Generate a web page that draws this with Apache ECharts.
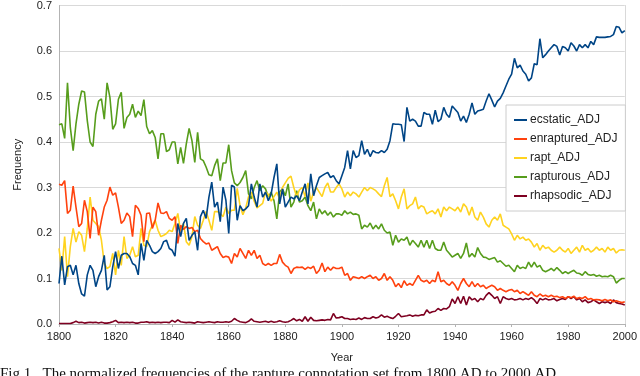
<!DOCTYPE html>
<html>
<head>
<meta charset="utf-8">
<script src="https://cdn.jsdelivr.net/npm/echarts@6/dist/echarts.min.js"></script>
<style>
  html, body { margin: 0; padding: 0; background: #fff; }
  #chart { width: 640px; height: 376px; }
</style>
</head>
<body>
<div id="chart"></div>
<script>
// years 1800..2000, one value per year
var startYear = 1800
var endYear = 2000
var yTicks = ['0.0', '0.1', '0.2', '0.3', '0.4', '0.5', '0.6', '0.7']

var ecstatic = [
  0.089, 0.149, 0.086, 0.126, 0.129, 0.108, 0.129, 0.089, 0.066, 0.061,
  0.108, 0.129, 0.118, 0.082, 0.104, 0.118, 0.151, 0.075, 0.082, 0.126,
  0.159, 0.122, 0.151, 0.155, 0.155, 0.148, 0.133, 0.129, 0.108, 0.177,
  0.140, 0.184, 0.173, 0.159, 0.155, 0.159, 0.166, 0.181, 0.184, 0.166,
  0.162, 0.149, 0.221, 0.192, 0.221, 0.232, 0.184, 0.195, 0.203, 0.162,
  0.236, 0.250, 0.232, 0.279, 0.312, 0.257, 0.268, 0.225, 0.301, 0.272,
  0.199, 0.305, 0.301, 0.228, 0.260, 0.249, 0.253, 0.260, 0.308, 0.279,
  0.257, 0.308, 0.279, 0.290, 0.271, 0.286, 0.322, 0.352, 0.264, 0.297,
  0.257, 0.268, 0.279, 0.275, 0.282, 0.271, 0.290, 0.308, 0.264, 0.330,
  0.282, 0.304, 0.322, 0.326, 0.330, 0.333, 0.322, 0.326, 0.315, 0.308,
  0.326, 0.344, 0.381, 0.341, 0.381, 0.366, 0.370, 0.403, 0.373, 0.384,
  0.368, 0.381, 0.377, 0.376, 0.381, 0.377, 0.384, 0.403, 0.440, 0.439,
  0.439, 0.438, 0.401, 0.476, 0.446, 0.450, 0.446, 0.435, 0.435, 0.465,
  0.461, 0.461, 0.439, 0.470, 0.445, 0.450, 0.476, 0.461, 0.454, 0.479,
  0.472, 0.465, 0.446, 0.457, 0.443, 0.461, 0.486, 0.461, 0.468, 0.470,
  0.472, 0.490, 0.506, 0.492, 0.477, 0.490, 0.496, 0.508, 0.523, 0.538,
  0.549, 0.584, 0.563, 0.569, 0.556, 0.549, 0.534, 0.541, 0.572, 0.570,
  0.627, 0.585, 0.592, 0.600, 0.607, 0.614, 0.610, 0.591, 0.610, 0.607,
  0.600, 0.618, 0.611, 0.600, 0.614, 0.607, 0.614, 0.607, 0.621, 0.614,
  0.631, 0.630, 0.630, 0.630, 0.631, 0.632, 0.636, 0.654, 0.652, 0.640,
  0.645
]

var enraptured = [
  0.307, 0.305, 0.315, 0.243, 0.250, 0.303, 0.257, 0.214, 0.221, 0.272,
  0.247, 0.188, 0.257, 0.247, 0.195, 0.228, 0.257, 0.272, 0.301, 0.283,
  0.288, 0.257, 0.221, 0.228, 0.244, 0.236, 0.192, 0.261, 0.254, 0.239,
  0.181, 0.243, 0.244, 0.210, 0.228, 0.266, 0.244, 0.243, 0.247, 0.232,
  0.228, 0.236, 0.177, 0.217, 0.208, 0.214, 0.210, 0.212, 0.203, 0.206,
  0.188, 0.181, 0.176, 0.178, 0.162, 0.166, 0.170, 0.155, 0.146, 0.149,
  0.147, 0.133, 0.155, 0.147, 0.166, 0.155, 0.144, 0.162, 0.151, 0.162,
  0.144, 0.151, 0.133, 0.129, 0.133, 0.129, 0.133, 0.133, 0.153, 0.136,
  0.129, 0.125, 0.111, 0.122, 0.125, 0.124, 0.125, 0.120, 0.125, 0.122,
  0.127, 0.111, 0.118, 0.134, 0.115, 0.125, 0.118, 0.125, 0.122, 0.122,
  0.125, 0.107, 0.111, 0.096, 0.104, 0.102, 0.100, 0.104, 0.100, 0.104,
  0.107, 0.100, 0.104, 0.096, 0.100, 0.111, 0.096, 0.104, 0.096, 0.082,
  0.089, 0.080, 0.095, 0.085, 0.089, 0.085, 0.096, 0.107, 0.096, 0.093,
  0.096, 0.089, 0.096, 0.093, 0.115, 0.093, 0.096, 0.089, 0.085, 0.093,
  0.085, 0.074, 0.089, 0.100, 0.089, 0.082, 0.093, 0.082, 0.089, 0.082,
  0.085, 0.078, 0.082, 0.085, 0.082, 0.074, 0.078, 0.074, 0.071, 0.074,
  0.076, 0.071, 0.074, 0.067, 0.071, 0.067, 0.063, 0.071, 0.063, 0.060,
  0.066, 0.061, 0.063, 0.060, 0.063, 0.060, 0.061, 0.058, 0.060, 0.056,
  0.060, 0.058, 0.061, 0.056, 0.058, 0.056, 0.060, 0.054, 0.056, 0.053,
  0.054, 0.053, 0.051, 0.054, 0.051, 0.053, 0.049, 0.051, 0.049, 0.047,
  0.049
]

var rapt = [
  0.166, 0.118, 0.192, 0.104, 0.170, 0.210, 0.180, 0.203, 0.195, 0.159,
  0.210, 0.279, 0.228, 0.221, 0.214, 0.184, 0.133, 0.122, 0.126, 0.155,
  0.108, 0.162, 0.129, 0.192, 0.144, 0.151, 0.170, 0.148, 0.151, 0.210,
  0.173, 0.170, 0.203, 0.217, 0.228, 0.206, 0.192, 0.195, 0.199, 0.206,
  0.203, 0.221, 0.243, 0.203, 0.221, 0.181, 0.173, 0.192, 0.236, 0.217,
  0.210, 0.228, 0.247, 0.228, 0.206, 0.247, 0.247, 0.243, 0.236, 0.257,
  0.243, 0.250, 0.250, 0.298, 0.260, 0.240, 0.255, 0.280, 0.290, 0.270,
  0.255, 0.260, 0.265, 0.290, 0.285, 0.270, 0.280, 0.290, 0.275, 0.300,
  0.310, 0.320, 0.325, 0.300, 0.280, 0.295, 0.300, 0.280, 0.310, 0.270,
  0.290, 0.300, 0.290, 0.280, 0.300, 0.310, 0.290, 0.290, 0.300, 0.308,
  0.297, 0.279, 0.290, 0.282, 0.290, 0.286, 0.279, 0.290, 0.300, 0.293,
  0.300, 0.297, 0.293, 0.286, 0.280, 0.304, 0.322, 0.280, 0.286, 0.271,
  0.253, 0.279, 0.297, 0.253, 0.260, 0.264, 0.279, 0.253, 0.260, 0.257,
  0.242, 0.246, 0.249, 0.242, 0.253, 0.235, 0.257, 0.249, 0.257, 0.253,
  0.249, 0.257, 0.246, 0.264, 0.257, 0.239, 0.257, 0.235, 0.228, 0.246,
  0.235, 0.220, 0.213, 0.228, 0.235, 0.228, 0.242, 0.217, 0.213, 0.209,
  0.198, 0.184, 0.195, 0.187, 0.191, 0.184, 0.187, 0.180, 0.169, 0.177,
  0.162, 0.173, 0.166, 0.169, 0.162, 0.158, 0.162, 0.169, 0.162, 0.158,
  0.166, 0.155, 0.162, 0.169, 0.158, 0.173, 0.162, 0.166, 0.158, 0.162,
  0.169, 0.162, 0.166, 0.158, 0.169, 0.162, 0.166, 0.156, 0.162, 0.163,
  0.162
]

var rapturous = [
  0.438, 0.440, 0.408, 0.530, 0.432, 0.381, 0.440, 0.483, 0.512, 0.510,
  0.447, 0.400, 0.390, 0.461, 0.490, 0.495, 0.450, 0.530, 0.498, 0.428,
  0.440, 0.494, 0.509, 0.430, 0.454, 0.461, 0.483, 0.454, 0.468, 0.458,
  0.493, 0.434, 0.418, 0.425, 0.410, 0.363, 0.418, 0.418, 0.379, 0.383,
  0.400, 0.400, 0.352, 0.388, 0.353, 0.396, 0.430, 0.403, 0.355, 0.421,
  0.363, 0.359, 0.345, 0.328, 0.326, 0.348, 0.363, 0.315, 0.354, 0.354,
  0.394, 0.337, 0.310, 0.304, 0.311, 0.322, 0.337, 0.286, 0.275, 0.300,
  0.315, 0.293, 0.304, 0.297, 0.279, 0.290, 0.271, 0.231, 0.290, 0.297,
  0.282, 0.308, 0.257, 0.268, 0.293, 0.268, 0.271, 0.279, 0.260, 0.249,
  0.268, 0.231, 0.253, 0.242, 0.249, 0.239, 0.246, 0.235, 0.242, 0.242,
  0.239, 0.249, 0.242, 0.246, 0.241, 0.242, 0.239, 0.209, 0.217, 0.213,
  0.222, 0.209, 0.217, 0.209, 0.220, 0.206, 0.200, 0.202, 0.173, 0.195,
  0.180, 0.187, 0.184, 0.191, 0.173, 0.184, 0.177, 0.169, 0.184, 0.169,
  0.184, 0.166, 0.184, 0.166, 0.162, 0.162, 0.180, 0.162, 0.155, 0.147,
  0.151, 0.155, 0.144, 0.155, 0.178, 0.147, 0.155, 0.147, 0.168, 0.155,
  0.147, 0.146, 0.142, 0.144, 0.146, 0.136, 0.139, 0.133, 0.127, 0.129,
  0.122, 0.115, 0.129, 0.122, 0.125, 0.122, 0.136, 0.125, 0.136, 0.125,
  0.129, 0.118, 0.115, 0.118, 0.122, 0.117, 0.124, 0.118, 0.111, 0.115,
  0.111, 0.115, 0.118, 0.112, 0.111, 0.107, 0.115, 0.109, 0.107, 0.109,
  0.105, 0.107, 0.104, 0.105, 0.104, 0.107, 0.104, 0.090, 0.096, 0.100,
  0.100
]

var rhapsodic = [
  0.001, 0.001, 0.001, 0.001, 0.001, 0.003, 0.006, 0.003, 0.004, 0.002,
  0.003, 0.004, 0.003, 0.004, 0.002, 0.004, 0.002, 0.002, 0.003, 0.005,
  0.008, 0.003, 0.004, 0.003, 0.004, 0.003, 0.004, 0.002, 0.002, 0.004,
  0.004, 0.005, 0.003, 0.004, 0.003, 0.004, 0.003, 0.004, 0.004, 0.003,
  0.008, 0.004, 0.009, 0.005, 0.004, 0.003, 0.004, 0.003, 0.002, 0.005,
  0.004, 0.003, 0.004, 0.005, 0.004, 0.003, 0.005, 0.004, 0.004, 0.005,
  0.004, 0.006, 0.012, 0.008, 0.005, 0.004, 0.003, 0.006, 0.011, 0.006,
  0.005, 0.004, 0.005, 0.006, 0.004, 0.006, 0.004, 0.005, 0.007, 0.005,
  0.004, 0.005, 0.008, 0.012, 0.007, 0.010, 0.006, 0.016, 0.006, 0.015,
  0.008, 0.007, 0.008, 0.009, 0.008, 0.010, 0.009, 0.023, 0.013, 0.014,
  0.016, 0.012, 0.012, 0.010, 0.011, 0.010, 0.013, 0.010, 0.014, 0.012,
  0.012, 0.016, 0.013, 0.015, 0.020, 0.015, 0.017, 0.014, 0.012, 0.017,
  0.023, 0.016, 0.017, 0.018, 0.020, 0.017, 0.019, 0.018, 0.020, 0.020,
  0.031, 0.024, 0.027, 0.028, 0.034, 0.030, 0.034, 0.033, 0.038, 0.055,
  0.045, 0.060, 0.045, 0.061, 0.042, 0.060, 0.053, 0.056, 0.049, 0.056,
  0.053, 0.063, 0.069, 0.063, 0.056, 0.060, 0.045, 0.060, 0.056, 0.054,
  0.056, 0.053, 0.054, 0.056, 0.053, 0.056, 0.054, 0.058, 0.053, 0.045,
  0.056, 0.053, 0.056, 0.053, 0.054, 0.056, 0.051, 0.054, 0.056, 0.054,
  0.060, 0.056, 0.060, 0.053, 0.056, 0.049, 0.053, 0.047, 0.049, 0.053,
  0.049, 0.045, 0.049, 0.047, 0.049, 0.045, 0.053, 0.047, 0.045, 0.044,
  0.042
]

var names = ['ecstatic_ADJ', 'enraptured_ADJ', 'rapt_ADJ', 'rapturous_ADJ', 'rhapsodic_ADJ']
var colors = ['#004586', '#ff420e', '#ffd320', '#579d1c', '#7e0021']
var values = [ecstatic, enraptured, rapt, rapturous, rhapsodic]

var years = []
for (var y = startYear; y <= endYear; y++) years.push(y)

function pairs(arr) {
  return years.map(function (yr, i) { return [yr, arr[i]] })
}

var myChart = echarts.init(document.getElementById('chart'))
var font = 'Liberation Sans'

var option = {
  animation: false,
  backgroundColor: '#fff',
  color: colors,
  textStyle: { fontFamily: font },
  grid: { left: 59, right: 12, top: 4, bottom: 52 },
  legend: {
    orient: 'vertical',
    left: 506,
    top: 105,
    padding: [8, 8, 8, 8],
    backgroundColor: '#fff',
    borderColor: '#cccccc',
    borderWidth: 1,
    icon: 'rect',
    itemWidth: 13,
    itemHeight: 2,
    itemGap: 5,
    textStyle: { fontFamily: font, fontSize: 12, color: '#222', lineHeight: 14, padding: [0, 0, 0, -2] },
    data: names
  },
  xAxis: {
    type: 'value',
    min: startYear,
    max: endYear,
    interval: 20,
    name: 'Year',
    nameLocation: 'middle',
    nameGap: 28,
    nameTextStyle: { fontFamily: font, fontSize: 11, color: '#222' },
    axisLine: { show: true, lineStyle: { color: '#b3b3b3', width: 1 } },
    axisTick: { show: true, length: 3, lineStyle: { color: '#b3b3b3' } },
    axisLabel: {
      fontFamily: font, fontSize: 11, color: '#222', margin: 7,
      formatter: function (v) { return String(v) }
    },
    splitLine: { show: false }
  },
  yAxis: [
    {
      type: 'value',
      min: 0,
      max: 0.7,
      interval: 0.1,
      name: 'Frequency',
      nameLocation: 'middle',
      nameGap: 36,
      nameTextStyle: { fontFamily: font, fontSize: 11, color: '#222' },
      axisLine: { show: true, lineStyle: { color: '#b3b3b3', width: 1 } },
      axisTick: { show: false },
      axisLabel: {
        fontFamily: font, fontSize: 11, color: '#222', margin: 7,
        formatter: function (v) { return yTicks[Math.round(v * 10)] }
      },
      splitLine: { show: true, lineStyle: { color: '#d9d9d9', width: 1 } }
    },
    {
      type: 'value',
      min: 0,
      max: 0.7,
      position: 'right',
      axisLine: { show: true, lineStyle: { color: '#d9d9d9', width: 1 } },
      axisTick: { show: false },
      axisLabel: { show: false },
      splitLine: { show: false }
    }
  ],
  graphic: [
    {
      type: 'text',
      left: 0,
      top: 367,
      style: {
        text: 'Fig 1.  The normalized frequencies of the rapture connotation set from 1800 AD to 2000 AD',
        font: '15px "Liberation Serif"',
        fill: '#111'
      }
    }
  ],
  series: names.map(function (n, i) {
    return {
      name: n,
      type: 'line',
      showSymbol: false,
      symbol: 'none',
      lineStyle: { width: 1.6, color: colors[i] },
      itemStyle: { color: colors[i] },
      z: 10 - i,
      data: pairs(values[i])
    }
  })
}

myChart.setOption(option)
</script>
</body>
</html>
